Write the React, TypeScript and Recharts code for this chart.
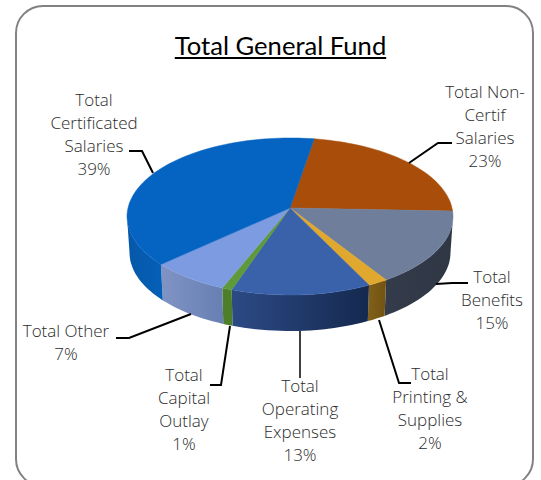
import React from 'react';
import { PieChart, Pie } from 'recharts';

const categories = [
  'Total Non-Certif Salaries',
  'Total Benefits',
  'Total Printing & Supplies',
  'Total Operating Expenses',
  'Total Capital Outlay',
  'Total Other',
  'Total Certificated Salaries',
];
const values = [23, 15.3, 1.8, 12.5, 0.9, 7.1, 39.4];
const labelLines = [
  ['Total Non-', 'Certif', 'Salaries', '23%'],
  ['Total', 'Benefits', '15%'],
  ['Total', 'Printing &', 'Supplies', '2%'],
  ['Total', 'Operating', 'Expenses', '13%'],
  ['Total', 'Capital', 'Outlay', '1%'],
  ['Total Other', '7%'],
  ['Total', 'Certificated', 'Salaries', '39%'],
];

const topColors = ['#A94E0A', '#6F7F9B', '#E0A82E', '#3A62AB', '#5F9A3A', '#7D9BE0', '#0563C1'];
const wallColors = [
  ['#7a3806', '#7a3806'],
  ['#343c4b', '#2f3745'],
  ['#80601a', '#735312'],
  ['#2c4a85', '#15294f'],
  ['#4d7f2b', '#4d7f2b'],
  ['#8094c4', '#677fb3'],
  ['#0558a8', '#0560b8'],
];

// label anchor (centre x, first line y) and leader line for each slice
const labelAnchors = [
  [485, 98],
  [492, 283],
  [430, 380],
  [300, 392],
  [184, 381],
  [66, 337],
  [94, 106],
];
const leaders = [
  [[452, 143], [438, 143], [409, 163]],
  [[436, 284], [452, 283], [468, 283]],
  [[379, 320], [399, 383], [411, 383]],
  [[300, 331], [300, 378]],
  [[230, 326], [221, 385], [210, 385]],
  [[191, 314], [129, 338], [116, 338]],
  [[129, 151], [142, 151], [153, 173]],
];

const data = categories.map((name, i) => ({ name, value: values[i], index: i }));

const FONT = '"Open Sans", Lato, sans-serif';
const TITLE_FONT = 'Lato, "Open Sans", sans-serif';
const TILT = 0.479;
const PERSPECTIVE = 0.108;
const DEPTH = 36;

// project a point of the pie's rim into the tilted view
function project(cx: number, cy: number, r: number, deg: number, drop = 0, shrink = 1) {
  const a = (deg * Math.PI) / 180;
  const u = Math.cos(a);
  const v = -Math.sin(a);
  const w = 1 - PERSPECTIVE * v;
  return [cx + (r * shrink * u) / w, cy + drop + (r * TILT * v) / w];
}

function arcPoints(cx: number, cy: number, r: number, from: number, to: number, drop = 0, shrink = 1) {
  const steps = Math.max(2, Math.ceil(Math.abs(to - from) / 2));
  const pts = [];
  for (let i = 0; i <= steps; i++) {
    pts.push(project(cx, cy, r, from + ((to - from) * i) / steps, drop, shrink));
  }
  return pts;
}

const toPath = (pts: number[][]) => 'M' + pts.map((p) => p[0].toFixed(1) + ' ' + p[1].toFixed(1)).join('L') + 'Z';

function TopSlice(props: any) {
  const { cx, cy, outerRadius, startAngle, endAngle, payload } = props;
  const color = topColors[payload.index];
  const pts = [[cx, cy], ...arcPoints(cx, cy, outerRadius, startAngle, endAngle)];
  return <path d={toPath(pts)} fill={color} stroke={color} strokeWidth={0.5} />;
}

function WallSlice(props: any) {
  const { cx, cy, outerRadius, startAngle, endAngle, payload } = props;
  const lo = Math.max(Math.min(startAngle, endAngle), -173.8);
  const hi = Math.min(Math.max(startAngle, endAngle), -6.2);
  if (lo >= hi) return <g />;
  const upper = arcPoints(cx, cy, outerRadius, lo, hi);
  const lower = arcPoints(cx, cy, outerRadius, hi, lo, DEPTH, 0.985);
  return <path d={toPath([...upper, ...lower])} fill={`url(#wall${payload.index})`} />;
}

function SliceLabel(props: any) {
  const i = props.index;
  const [x, y] = labelAnchors[i];
  return (
    <g>
      <polyline
        points={leaders[i].map((p) => p.join(',')).join(' ')}
        fill="none"
        stroke="#000"
        strokeWidth={i === 3 ? 1.5 : 2}
      />
      <text x={x} y={y} textAnchor="middle" fontFamily={FONT} fontWeight={300} fontSize={17} fill="#2b2b2b">
        {labelLines[i].map((line, j) => (
          <tspan key={j} x={x} y={y + j * 23}>
            {line}
          </tspan>
        ))}
      </text>
    </g>
  );
}

export default function App() {
  return (
    <div style={{ position: 'absolute', left: 0, top: 0, width: 541, height: 480, overflow: 'hidden', background: '#fff' }}>
      <div
        style={{
          position: 'absolute',
          left: 15,
          top: 5,
          width: 519,
          height: 482,
          boxSizing: 'border-box',
          border: '2px solid #828282',
          borderRadius: 28,
        }}
      />
      <div
        style={{
          position: 'absolute',
          left: 0,
          top: 27,
          width: 561,
          textAlign: 'center',
          fontFamily: TITLE_FONT,
          fontSize: 25.6,
          lineHeight: '36px',
          color: '#000',
          textDecoration: 'underline',
        }}
      >
        Total General Fund
      </div>
      <div style={{ position: 'absolute', left: 0, top: 0 }}>
        <PieChart width={541} height={480} margin={{ top: 0, right: 0, bottom: 0, left: 0 }}>
          <defs>
            {wallColors.map((c, i) => (
              <linearGradient key={i} id={`wall${i}`} x1="0" y1="0" x2="1" y2="0">
                <stop offset="0%" stopColor={c[0]} />
                <stop offset="100%" stopColor={c[1]} />
              </linearGradient>
            ))}
          </defs>
          <Pie
            data={data}
            dataKey="value"
            cx={290}
            cy={208}
            outerRadius={162}
            startAngle={80.5}
            endAngle={-279.5}
            stroke="none"
            shape={WallSlice}
            isAnimationActive={false}
          />
          <Pie
            data={data}
            dataKey="value"
            cx={290}
            cy={208}
            outerRadius={162}
            startAngle={80.5}
            endAngle={-279.5}
            stroke="none"
            shape={TopSlice}
            label={SliceLabel}
            labelLine={false}
            isAnimationActive={false}
          />
        </PieChart>
      </div>
    </div>
  );
}
